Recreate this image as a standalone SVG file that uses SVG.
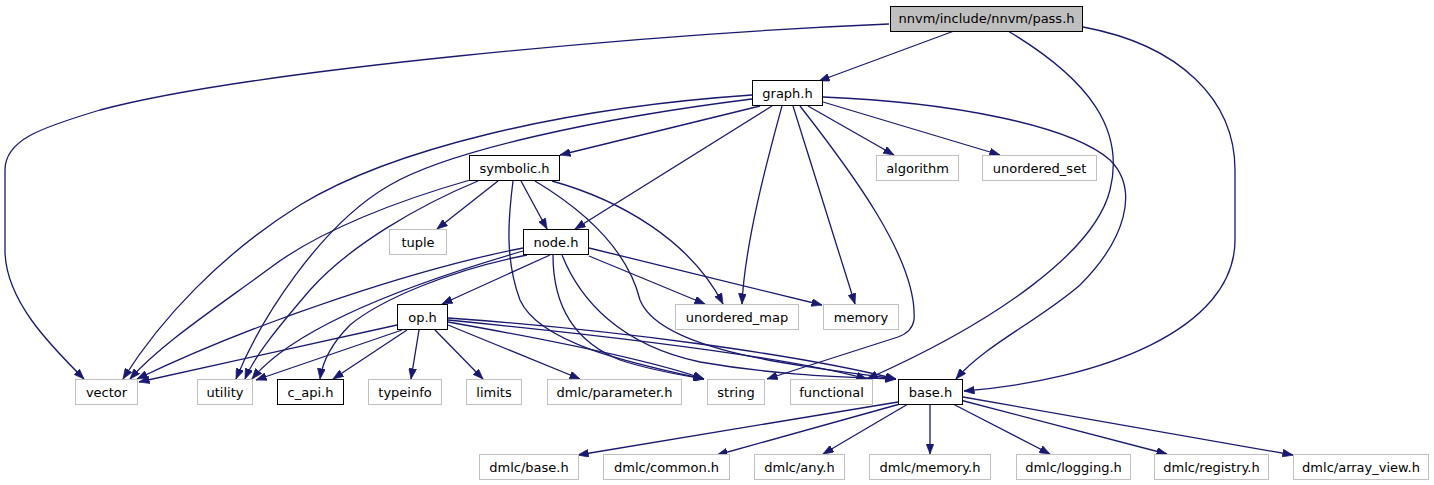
<svg xmlns="http://www.w3.org/2000/svg" width="1434" height="485" viewBox="0 0 1434 485">
<style>
.n rect{fill:#fff;stroke:#bfbfbf;stroke-width:1}
.n.k rect{stroke:#000}
.n.r rect{fill:#bfbfbf;stroke:#000}
.n text{font-family:"DejaVu Sans",sans-serif;font-size:13px;fill:#000;text-anchor:middle}
#edges path{fill:none;stroke:#191970;stroke-width:1.3;marker-end:url(#a)}
</style>
<defs>
<marker id="a" markerUnits="userSpaceOnUse" markerWidth="11" markerHeight="8" refX="10.5" refY="4" orient="auto"><path d="M0,0 L10.5,4 L0,8 z" fill="#191970" stroke="#191970" stroke-width="0.6"/></marker>
</defs>
<rect width="1434" height="485" fill="#fff"/>
<g id="edges">
<path d="M954,31 L819,81"/>
<path d="M889,24 C650,34 250,70 100,110 C40,128 5,140 5,170 L5,250 C5,300 50,345 84,379"/>
<path d="M1008,31 C1090,80 1125,130 1110,190 C1095,250 1000,320 867,379"/>
<path d="M1083,27 C1180,45 1235,100 1235,170 L1235,240 C1235,330 1100,380 964,391"/>
<path d="M752,95 C560,108 390,150 300,205 C220,255 160,320 123,379"/>
<path d="M752,99 C600,118 450,150 390,185 C320,225 260,320 236,379"/>
<path d="M760,106 L560,155"/>
<path d="M772,106 L575,229"/>
<path d="M782,106 C770,150 745,240 742,304"/>
<path d="M793,106 L855,304"/>
<path d="M800,106 C850,170 918,260 914,320 Q912,332 898,337 L767,379"/>
<path d="M808,106 L894,155"/>
<path d="M823,102 L1000,155"/>
<path d="M823,97 C950,102 1070,125 1110,160 C1140,190 1125,240 1080,285 C1040,320 985,345 956,379"/>
<path d="M470,180 C400,200 320,230 270,268 C210,312 160,345 130,379"/>
<path d="M478,181 C420,205 350,245 310,290 C280,325 255,355 245,379"/>
<path d="M498,181 L437,229"/>
<path d="M521,181 L547,229"/>
<path d="M513,181 C508,220 505,260 520,300 C540,345 640,365 704,379"/>
<path d="M535,181 C600,220 630,260 640,300 C660,350 790,365 896,379"/>
<path d="M552,181 C620,200 690,240 723,304"/>
<path d="M523,248 C420,268 260,320 137,379"/>
<path d="M523,251 C440,275 300,320 252,379"/>
<path d="M527,255 C450,270 380,300 350,325 C330,345 322,365 320,379"/>
<path d="M550,255 L442,304"/>
<path d="M553,255 C553,300 570,340 620,360 C650,370 680,375 704,379"/>
<path d="M562,255 C580,300 620,345 700,362 C780,376 850,377 896,379"/>
<path d="M589,256 L705,304"/>
<path d="M589,248 L822,305"/>
<path d="M397,325 L139,382"/>
<path d="M402,330 L256,380"/>
<path d="M407,330 L333,379"/>
<path d="M419,330 L411,379"/>
<path d="M435,330 L483,379"/>
<path d="M448,325 L580,379"/>
<path d="M448,322 C550,340 650,360 704,379"/>
<path d="M448,320 C600,335 780,355 867,379"/>
<path d="M448,318 C620,330 800,355 896,379"/>
<path d="M898,402 L578,455"/>
<path d="M900,404 L717,455"/>
<path d="M908,404 L823,454"/>
<path d="M930,404 L930,454"/>
<path d="M953,404 L1050,454"/>
<path d="M960,400 L1167,454"/>
<path d="M963,397 L1293,455"/>
</g>
<g id="pass_h" class="n r"><rect x="890.5" y="6.5" width="192" height="25"/><text x="986.5" y="23">nnvm/include/nnvm/pass.h</text></g>
<g id="graph_h" class="n k"><rect x="752.5" y="80.5" width="70" height="25"/><text x="787.5" y="97.5">graph.h</text></g>
<g id="symbolic_h" class="n k"><rect x="469.5" y="155.5" width="90" height="25"/><text x="514.5" y="172.5">symbolic.h</text></g>
<g id="node_h" class="n k"><rect x="523.5" y="229.5" width="65" height="25"/><text x="556" y="246.5">node.h</text></g>
<g id="op_h" class="n k"><rect x="397.5" y="304.5" width="50" height="25"/><text x="422.5" y="321.5">op.h</text></g>
<g id="tuple" class="n"><rect x="389.5" y="229.5" width="57" height="25"/><text x="418" y="246.5">tuple</text></g>
<g id="algorithm" class="n"><rect x="876.5" y="155.5" width="82" height="25"/><text x="917.5" y="172.5">algorithm</text></g>
<g id="unordered_set" class="n"><rect x="982.5" y="155.5" width="114" height="25"/><text x="1039.5" y="172.5">unordered_set</text></g>
<g id="unordered_map" class="n"><rect x="675.5" y="304.5" width="123" height="25"/><text x="737" y="321.5">unordered_map</text></g>
<g id="memory" class="n"><rect x="823.5" y="304.5" width="75" height="25"/><text x="861" y="321.5">memory</text></g>
<g id="vector" class="n"><rect x="75.5" y="379.5" width="62" height="25"/><text x="106.5" y="396.5">vector</text></g>
<g id="utility" class="n"><rect x="197.5" y="379.5" width="55" height="25"/><text x="225" y="396.5">utility</text></g>
<g id="c_api_h" class="n k"><rect x="277.5" y="379.5" width="66" height="25"/><text x="310.5" y="396.5">c_api.h</text></g>
<g id="typeinfo" class="n"><rect x="368.5" y="379.5" width="73" height="25"/><text x="405" y="396.5">typeinfo</text></g>
<g id="limits" class="n"><rect x="466.5" y="379.5" width="55" height="25"/><text x="494" y="396.5">limits</text></g>
<g id="dmlc_parameter_h" class="n"><rect x="547.5" y="379.5" width="134" height="25"/><text x="614.5" y="396.5">dmlc/parameter.h</text></g>
<g id="string" class="n"><rect x="707.5" y="379.5" width="57" height="25"/><text x="736" y="396.5">string</text></g>
<g id="functional" class="n"><rect x="790.5" y="379.5" width="82" height="25"/><text x="831.5" y="396.5">functional</text></g>
<g id="base_h" class="n k"><rect x="898.5" y="379.5" width="64" height="25"/><text x="930.5" y="396.5">base.h</text></g>
<g id="dmlc_base_h" class="n"><rect x="479.5" y="454.5" width="99" height="25"/><text x="529" y="471.5">dmlc/base.h</text></g>
<g id="dmlc_common_h" class="n"><rect x="603.5" y="454.5" width="126" height="25"/><text x="666.5" y="471.5">dmlc/common.h</text></g>
<g id="dmlc_any_h" class="n"><rect x="754.5" y="454.5" width="90" height="25"/><text x="799.5" y="471.5">dmlc/any.h</text></g>
<g id="dmlc_memory_h" class="n"><rect x="869.5" y="454.5" width="121" height="25"/><text x="930" y="471.5">dmlc/memory.h</text></g>
<g id="dmlc_logging_h" class="n"><rect x="1016.5" y="454.5" width="114" height="25"/><text x="1073.5" y="471.5">dmlc/logging.h</text></g>
<g id="dmlc_registry_h" class="n"><rect x="1154.5" y="454.5" width="114" height="25"/><text x="1211.5" y="471.5">dmlc/registry.h</text></g>
<g id="dmlc_array_view_h" class="n"><rect x="1293.5" y="454.5" width="135" height="25"/><text x="1361" y="471.5">dmlc/array_view.h</text></g>
</svg>
